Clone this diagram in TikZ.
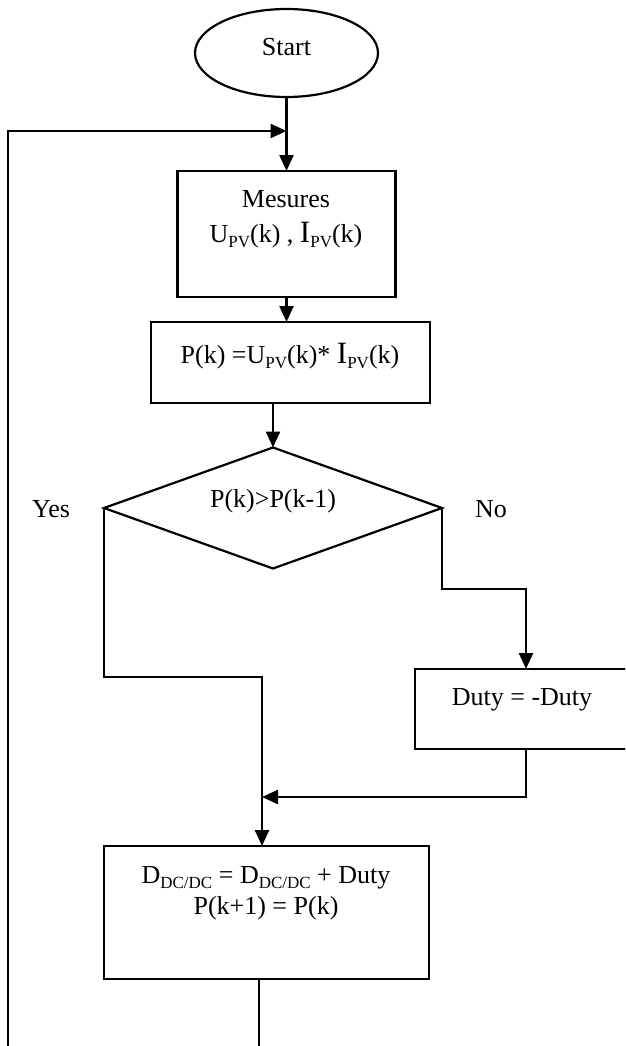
\documentclass[tikz,border=0pt]{standalone}
\usepackage{fontspec}
\setmainfont{Liberation Serif}
\usetikzlibrary{arrows.meta,shapes.geometric}
\newcommand{\lowsub}[1]{\raisebox{-0.2em}{\fontsize{17}{17}\selectfont #1}}
\newcommand{\bigI}{{\fontsize{31}{31}\selectfont I}}
\begin{document}
\begin{tikzpicture}[x=1pt,y=-1pt,line width=2.4pt,
  font=\fontsize{26}{31}\selectfont,
  >={Triangle[length=16pt,width=14pt]},
  box/.style={draw,rectangle,inner sep=0pt,outer sep=0pt,line width=2.2pt},
  txt/.style={inner sep=0pt,anchor=base}]
\clip (0,0) rectangle (625,1046);
% nodes
\node[draw,ellipse,inner sep=0pt,outer sep=0pt,line width=2.2pt,minimum width=183pt,minimum height=88pt] (start) at (286.5,53) {};
\node[txt] (starttxt) at (286.5,56) {Start};
\node[box,minimum width=218pt,minimum height=126pt] (mes) at (286.5,234) {};
\node[txt] (mes1) at (286,207) {Mesures};
\node[txt] (mes2) at (286,242) {U\lowsub{PV}(k) , \bigI\lowsub{PV}(k)};
\node[box,minimum width=279pt,minimum height=81pt] (pbox) at (290.5,362.5) {};
\node[txt] (ptxt) at (290,363) {P(k) =U\lowsub{PV}(k)* \bigI\lowsub{PV}(k)};
\node[draw,diamond,inner sep=0pt,outer sep=0pt,line width=2.2pt,minimum width=338pt,minimum height=121pt] (dec) at (273,508) {};
\node[txt] (dectxt) at (273,507) {P(k)>P(k-1)};
\node[txt] (yes) at (51,517) {Yes};
\node[txt] (no) at (491,517) {No};
\node[box,minimum width=222pt,minimum height=80pt] (duty) at (526,709) {};
\node[txt] (dutytxt) at (522,705) {Duty = -Duty};
\node[box,minimum width=325pt,minimum height=133pt] (bot) at (266.5,912.5) {};
\node[txt] (bot1) at (266,883) {D\lowsub{DC/DC} = D\lowsub{DC/DC} + Duty};
\node[txt] (bot2) at (266,914) {P(k+1) = P(k)};
% helper coordinates
\coordinate (fbtop) at (8,131);
\coordinate (fbbot) at (8,1050);
\coordinate (m1) at (262,677);
\coordinate (m2) at (262,797);
\coordinate (n1) at (526,589);
\coordinate (botend) at (259,1050);
% connectors
\draw[->] (start.south) -- (mes.north);
\draw[->] (fbbot) -- (fbtop) -- (start.south |- fbtop);
\draw[->] (mes.south) -- (mes.south |- pbox.north);
\draw[->] (dec.north |- pbox.south) -- (dec.north);
\draw[->] (dec.west) |- (m1) -- (m1 |- bot.north);
\draw[->] (dec.east) |- (n1) -- (duty.north);
\draw[->] (duty.south) |- (m2);
\draw ([xshift=-7.5pt]bot.south) -- (botend);
\end{tikzpicture}
\end{document}
